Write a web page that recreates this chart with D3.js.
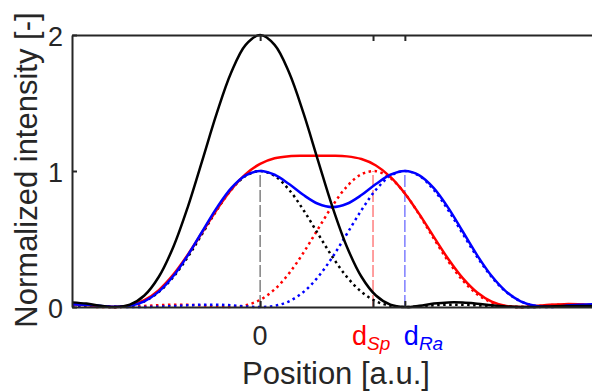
<!DOCTYPE html>
<html>
<head>
<meta charset="utf-8">
<script src="https://cdn.jsdelivr.net/npm/d3@7"></script>
<style>
  body { margin: 0; background: white; }
  text { font-family: 'Liberation Sans', Arial, sans-serif; }
</style>
</head>
<body>
<script>
  // positions in Rayleigh units (0 = first peak, 1 = d_Ra)
  const positions = [-1.3, -1.2, -1.1, -1.0, -0.9, -0.8, -0.7, -0.6, -0.5, -0.4, -0.3, -0.2, -0.1,
    0, 0.1, 0.2, 0.3, 0.4, 0.5, 0.6, 0.7, 0.8, 0.9, 1.0, 1.1, 1.2, 1.3, 1.4, 1.5, 1.6, 1.7, 1.8,
    1.9, 2.0, 2.1, 2.2, 2.3];

  const blackDotted = [0.0170, 0.0125, 0.0046, 0, 0.0085, 0.0421, 0.1111, 0.2207, 0.3675, 0.5384, 0.7118, 0.8619, 0.9639,
    1, 0.9639, 0.8619, 0.7118, 0.5384, 0.3675, 0.2207, 0.1111, 0.0421, 0.0085, 0, 0.0046, 0.0125, 0.0170, 0.0166, 0.0123,
    0.0066, 0.0021, 0.0001, 0.0004, 0.0020, 0.0036, 0.0041, 0.0036];

  const blackSolid = [0.0340, 0.0250, 0.0092, 0, 0.0170, 0.0842, 0.2222, 0.4414, 0.7350, 1.0768, 1.4236, 1.7238, 1.9278,
    2, 1.9278, 1.7238, 1.4236, 1.0768, 0.7350, 0.4414, 0.2222, 0.0842, 0.0170, 0, 0.0092, 0.0250, 0.0340, 0.0332, 0.0246,
    0.0132, 0.0042, 0.0002, 0.0008, 0.0040, 0.0072, 0.0082, 0.0072];

  const redDotted = [0.0033, 0.0017, 0.0002, 0.0003, 0.0028, 0.0077, 0.0133, 0.0171, 0.0165, 0.0110, 0.0032, 0.0003, 0.0128,
    0.0528, 0.1298, 0.2474, 0.4004, 0.5737, 0.7445, 0.8868, 0.9767, 0.9985, 0.9483, 0.8350, 0.6781, 0.5032, 0.3357, 0.1956,
    0.0941, 0.0328, 0.0052, 0.0002, 0.0062, 0.0137, 0.0174, 0.0160, 0.0112];

  const redSolid = [0.0203, 0.0142, 0.0048, 0.0003, 0.0113, 0.0498, 0.1244, 0.2378, 0.3840, 0.5494, 0.7150, 0.8622, 0.9767,
    1.0528, 1.0937, 1.1093, 1.1122, 1.1121, 1.1120, 1.1075, 1.0878, 1.0406, 0.9568, 0.8350, 0.6827, 0.5157, 0.3527, 0.2122,
    0.1064, 0.0394, 0.0073, 0.0003, 0.0066, 0.0157, 0.0210, 0.0201, 0.0148];

  const blueDotted = [0.0036, 0.0041, 0.0036, 0.0020, 0.0004, 0.0001, 0.0021, 0.0066, 0.0123, 0.0166, 0.0170, 0.0125, 0.0046,
    0, 0.0085, 0.0421, 0.1111, 0.2207, 0.3675, 0.5384, 0.7118, 0.8619, 0.9639, 1, 0.9639, 0.8619, 0.7118, 0.5384, 0.3675,
    0.2207, 0.1111, 0.0421, 0.0085, 0, 0.0046, 0.0125, 0.0170];

  const blueSolid = [0.0206, 0.0166, 0.0082, 0.0020, 0.0089, 0.0422, 0.1132, 0.2273, 0.3798, 0.5550, 0.7288, 0.8744, 0.9685,
    1, 0.9724, 0.9040, 0.8229, 0.7591, 0.7350, 0.7591, 0.8229, 0.9040, 0.9724, 1, 0.9685, 0.8744, 0.7288, 0.5550, 0.3798,
    0.2273, 0.1132, 0.0422, 0.0089, 0.0020, 0.0082, 0.0166, 0.0206];

  const markerPositions = [0, 0.78, 1];   // 0, d_Sp, d_Ra
  const markerHeights = [1, 1, 1];
  const xTickNames = ['0', 'd', 'd'];
  const xTickSubs = ['', 'Sp', 'Ra'];
  const yTickValues = [0, 1, 2];

  const WIDTH = 592;
  const HEIGHT = 392;
  const AXIS_COLOR = '#262626';

  const svg = d3.select('body').append('svg')
    .attr('width', WIDTH)
    .attr('height', HEIGHT);

  const x = d3.scaleLinear()
    .domain([-1.3, 2.3])
    .range([72, 593]);

  const y = d3.scaleLinear()
    .domain([0, 2])
    .range([307, 35]);

  const markerColors = ['#808080', '#ff7f7f', '#7f7fff'];
  const labelColors = ['#262626', '#ff0000', '#0000ff'];

  // dashed markers
  svg.append('g').selectAll('line')
    .data(markerPositions)
    .enter()
    .append('line')
    .attr('x1', d => x(d))
    .attr('x2', d => x(d))
    .attr('y1', y(0))
    .attr('y2', (d, i) => y(markerHeights[i]))
    .attr('stroke', (d, i) => markerColors[i])
    .attr('stroke-width', 1.5)
    .attr('stroke-dasharray', '12,3');

  const line = d3.line()
    .x((d, i) => x(positions[i]))
    .y(d => y(d))
    .curve(d3.curveCatmullRom.alpha(0.5));

  const curves = [
    { values: redDotted, color: '#ff0000', dash: '2.5,3.5' },
    { values: blueDotted, color: '#0000ff', dash: '2.5,3.5' },
    { values: blackDotted, color: '#000000', dash: '2.5,3.5' },
    { values: redSolid, color: '#ff0000', dash: null },
    { values: blueSolid, color: '#0000ff', dash: null },
    { values: blackSolid, color: '#000000', dash: null },
  ];

  svg.append('g').selectAll('path')
    .data(curves)
    .enter()
    .append('path')
    .attr('d', d => line(d.values))
    .attr('fill', 'none')
    .attr('stroke', d => d.color)
    .attr('stroke-width', 2.5)
    .attr('stroke-dasharray', d => d.dash);

  // axes box
  const axisLeft = d3.axisLeft(y).tickValues(yTickValues).tickSize(-5).tickSizeOuter(0).tickFormat('');
  const axisBottom = d3.axisBottom(x).tickValues(markerPositions).tickSize(-6).tickSizeOuter(0).tickFormat('');
  const axisTop = d3.axisTop(x).tickValues(markerPositions).tickSize(-6).tickSizeOuter(0).tickFormat('');

  svg.append('g').attr('transform', `translate(${x(-1.3)},0)`).call(axisLeft);
  svg.append('g').attr('transform', `translate(0,${y(0)})`).call(axisBottom);
  svg.append('g').attr('transform', `translate(0,${y(2)})`).call(axisTop);

  svg.selectAll('.domain, .tick line')
    .attr('stroke', AXIS_COLOR)
    .attr('stroke-width', 2);

  // y tick labels
  svg.append('g').selectAll('text')
    .data(yTickValues)
    .enter()
    .append('text')
    .attr('x', x(-1.3) - 9)
    .attr('y', d => y(d) + 11)
    .attr('text-anchor', 'end')
    .attr('font-size', 27)
    .attr('fill', AXIS_COLOR)
    .text(d => d);

  // x tick labels
  const xLabelShift = [0, -21, -1];
  const xLabelAnchor = ['middle', 'start', 'start'];
  const xLabels = svg.append('g').selectAll('text')
    .data(markerPositions)
    .enter()
    .append('text')
    .attr('x', (d, i) => x(d) + xLabelShift[i])
    .attr('y', y(0) + 38)
    .attr('text-anchor', (d, i) => xLabelAnchor[i])
    .attr('font-size', 27)
    .attr('fill', (d, i) => labelColors[i]);

  xLabels.append('tspan').text((d, i) => xTickNames[i]);
  xLabels.append('tspan')
    .attr('dy', 5)
    .attr('font-size', 19)
    .attr('font-style', 'italic')
    .text((d, i) => xTickSubs[i]);

  svg.append('text')
    .attr('x', 336)
    .attr('y', 384)
    .attr('text-anchor', 'middle')
    .attr('font-size', 31)
    .attr('fill', AXIS_COLOR)
    .text('Position [a.u.]');

  svg.append('text')
    .attr('transform', 'translate(37,170) rotate(-90)')
    .attr('text-anchor', 'middle')
    .attr('font-size', 31)
    .attr('fill', AXIS_COLOR)
    .text('Normalized intensity [-]');
</script>
</body>
</html>
